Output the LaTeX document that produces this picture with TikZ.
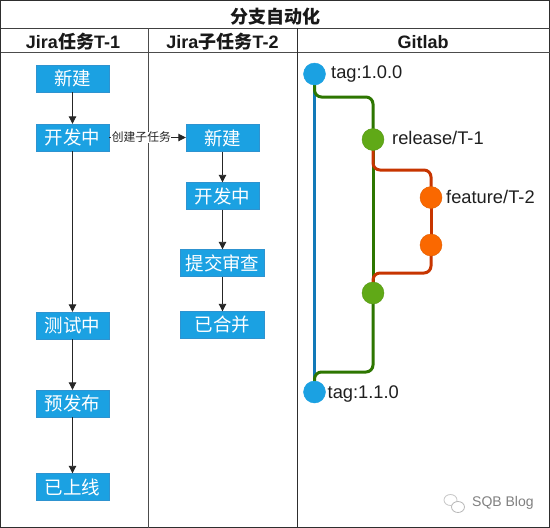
\documentclass[tikz,border=0pt]{standalone}
\usepackage{fontspec}
\setmainfont{Liberation Sans}
\newfontfamily\cjk{Noto Sans CJK SC}
\usetikzlibrary{arrows.meta}
\definecolor{blue1}{HTML}{1BA1E2}
\definecolor{blue2}{HTML}{2E93D0}
\definecolor{blue3}{HTML}{1279B8}
\definecolor{green1}{HTML}{60A917}
\definecolor{green2}{HTML}{2D7600}
\definecolor{orange1}{HTML}{FA6800}
\definecolor{orange2}{HTML}{C73500}
\tikzset{
  x=1pt,y=-1pt,
  frame/.style={draw=black!82,line width=1pt},
  stepbox/.style={draw=blue2,fill=blue1,text=white,minimum height=27pt,inner sep=0pt,font=\cjk\fontsize{18.5}{18.5}\selectfont},
  flow/.style={draw=black!85,line width=0.9pt,-{Triangle[length=7.5pt,width=7.5pt]}},
  head/.style={font=\bfseries\fontsize{18}{18}\selectfont,text=black!90,inner sep=0pt},
  commit/.style={circle,minimum size=22pt,inner sep=0pt,line width=0.4pt},
  bluec/.style={commit,fill=blue1,draw=blue1},
  greenc/.style={commit,fill=green1,draw=green1!90!black},
  orangec/.style={commit,fill=orange1,draw=orange1!90!black},
  lab/.style={font=\fontsize{18.3}{18.3}\selectfont,text=black!88,inner sep=0pt,anchor=base west},
  bluel/.style={draw=blue3,line width=3pt},
  greenl/.style={draw=green2,line width=3pt,rounded corners=7pt},
  orangel/.style={draw=orange2,line width=3pt,rounded corners=7pt},
}
\begin{document}
\begin{tikzpicture}
\useasboundingbox (0,0) rectangle (550,528);
\fill[white] (0,0) rectangle (550,528);
% frame
\draw[frame] (0.5,0.5) rectangle (549.5,527.5);
\draw[frame,draw=black!75] (0.5,28) -- (549.5,28);
\draw[frame,draw=black!70] (0.5,52) -- (549.5,52);
\draw[frame,draw=black!70] (148,28) -- (148,527.5);
\draw[frame] (297.5,28) -- (297.5,527.5);
% headers
\node[head] (title) at (275,16.5) {{\cjk 分支自动化}};
\node[head] (h1) at (73,42) {Jira{\cjk 任务}T-1};
\node[head] (h2) at (222.5,42) {Jira{\cjk 子任务}T-2};
\node[head] (h3) at (423,42) {Gitlab};
% column 1
\node[stepbox,minimum width=73pt] (a1) at (72.5,78.5) {新建};
\node[stepbox,minimum width=73pt] (a2) at (72.5,137.5) {开发中};
\node[stepbox,minimum width=73pt] (a3) at (72.5,325.5) {测试中};
\node[stepbox,minimum width=73pt] (a4) at (72.5,403.5) {预发布};
\node[stepbox,minimum width=73pt] (a5) at (72.5,487) {已上线};
% column 2
\node[stepbox,minimum width=73pt] (b1) at (222.5,138) {新建};
\node[stepbox,minimum width=73pt] (b2) at (222.5,196) {开发中};
\node[stepbox,minimum width=84pt] (b3) at (222.5,263) {提交审查};
\node[stepbox,minimum width=84pt] (b4) at (222.5,325) {已合并};
% flows
\draw[flow] (a1) -- (a2);
\draw[flow] (a2) -- (a3);
\draw[flow] (a3) -- (a4);
\draw[flow] (a4) -- (a5);
\draw[flow] (b1) -- (b2);
\draw[flow] (b2) -- (b3);
\draw[flow] (b3) -- (b4);
\draw[flow] (a2.east) -- node[pos=0.42,fill=white,inner sep=0.5pt,font=\cjk\fontsize{11.8}{11.8}\selectfont,text=black!85] (fl) {创建子任务} (a2.east -| b1.west);
% git coordinates
\coordinate (t1) at (314.5,74);
\coordinate (r1) at (373,139.5);
\coordinate (f1) at (431,197.5);
\coordinate (f2) at (431,245);
\coordinate (r2) at (373,293);
\coordinate (t2) at (314.5,392);
\draw[bluel] (t1) -- (t2);
\draw[greenl] (t1) |- (373,97) -- (r1);
\draw[greenl] (r1) -- (r2);
\draw[orangel] (r1) |- (431,170) -- (f1);
\draw[orangel] (f1) -- (f2);
\draw[orangel] (f2) |- (373,273) -- (r2);
\draw[greenl] (r2) |- (314.5,372) -- (t2);
\node[bluec] (c1) at (t1) {};
\node[greenc] (c2) at (r1) {};
\node[orangec] (c3) at (f1) {};
\node[orangec] (c4) at (f2) {};
\node[greenc] (c5) at (r2) {};
\node[bluec] (c6) at (t2) {};
\node[lab] (l1) at (331,78.5) {tag:1.0.0};
\node[lab] (l2) at (392,144.5) {release/T-1};
\node[lab] (l3) at (446,203.5) {feature/T-2};
\node[lab] (l4) at (327.5,398.5) {tag:1.1.0};
% watermark
\node[font=\fontsize{14}{14}\selectfont,text=black!50,inner sep=0pt,anchor=west] (wm) at (472,502.5) {SQB Blog};
\draw[black!22,line width=0.8pt,fill=white] (450.5,500) ellipse (6.5pt and 5.5pt);
\draw[black!28,line width=0.8pt,fill=white] (458,507) ellipse (6.5pt and 5.5pt);
\end{tikzpicture}
\end{document}
